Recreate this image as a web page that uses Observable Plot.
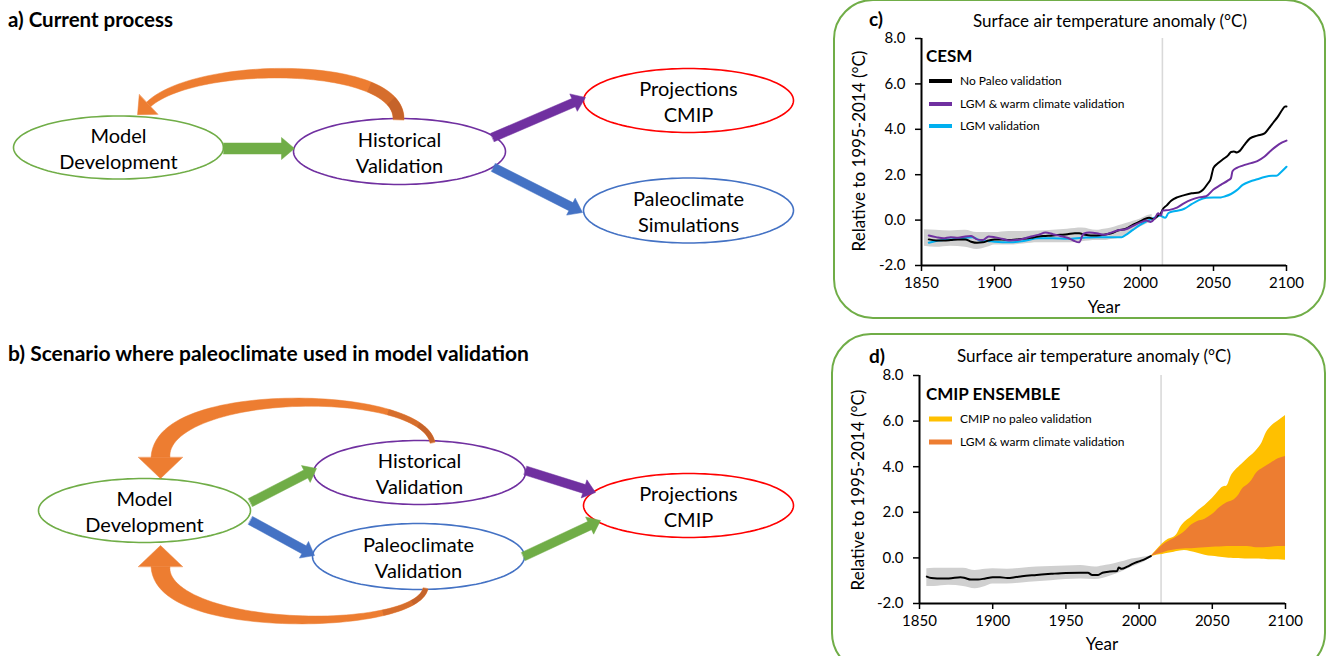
<!DOCTYPE html>
<html><head><meta charset="utf-8">
<script src="https://cdn.jsdelivr.net/npm/d3@7"></script>
<script src="https://cdn.jsdelivr.net/npm/@observablehq/plot@0.6"></script>
<style>
body{margin:0;background:#fff;font-family:Lato,"Open Sans",sans-serif;}
#root{position:relative;width:1327px;height:656px;overflow:hidden;background:#fff}
.abs{position:absolute;white-space:nowrap;line-height:1;color:#000}
.c{transform:translate(-50%,-50%)}
.l{transform:translate(0,-50%)}
.box{position:absolute;border:2px solid #70ad47;border-radius:40px;box-sizing:border-box}
.sw{position:absolute;transform:translate(0,-50%)}
</style></head><body><div id="root"></div><script>
// ---------------- DATA ----------------
const xTicks = [1850, 1900, 1950, 2000, 2050, 2100];
const yTicks = [-2, 0, 2, 4, 6, 8];

// Panel c (CESM)
const cNoPaleoYears = [1855,1860,1865,1870,1875,1880,1884,1888,1892,1896,1900,1905,1910,1915,1920,1925,1930,1935,1940,1945,1950,1955,1958,1962,1966,1970,1975,1980,1985,1990,1995,2000,2003,2006,2009,2012,2014,2015,2018,2021,2025,2030,2035,2040,2043,2046,2048,2050,2053,2057,2060,2062,2064,2066,2068,2071,2075,2080,2085,2088,2091,2094,2097,2099,2100];
const cNoPaleoValues = [-0.85,-0.9,-0.9,-0.88,-0.85,-0.85,-0.95,-1.0,-0.98,-0.9,-0.85,-0.85,-0.88,-0.85,-0.82,-0.78,-0.72,-0.7,-0.68,-0.65,-0.62,-0.58,-0.58,-0.65,-0.68,-0.68,-0.65,-0.58,-0.45,-0.38,-0.2,-0.05,0.05,0.1,0.05,0.2,0.3,0.45,0.65,0.85,1.0,1.1,1.18,1.22,1.35,1.6,1.8,2.3,2.5,2.7,2.85,3.0,3.02,2.98,3.05,3.3,3.6,3.72,3.82,4.05,4.3,4.55,4.85,5.0,5.0];

const cWarmYears = [1855,1860,1865,1870,1875,1880,1884,1888,1892,1896,1900,1905,1910,1915,1920,1925,1930,1935,1940,1945,1950,1954,1958,1961,1965,1970,1975,1980,1985,1990,1995,2000,2004,2007,2010,2012,2014,2015,2020,2025,2030,2035,2040,2045,2050,2055,2060,2062,2063,2066,2070,2075,2080,2085,2090,2095,2100];
const cWarmValues = [-0.68,-0.75,-0.8,-0.75,-0.78,-0.72,-0.7,-0.85,-0.88,-0.72,-0.75,-0.82,-0.9,-0.88,-0.82,-0.72,-0.65,-0.55,-0.62,-0.7,-0.78,-0.9,-0.98,-0.6,-0.55,-0.58,-0.65,-0.55,-0.45,-0.4,-0.25,-0.1,-0.02,-0.08,0.1,0.3,0.2,0.42,0.45,0.55,0.75,0.9,1.0,1.05,1.35,1.55,1.75,1.85,2.15,2.3,2.4,2.5,2.6,2.8,3.1,3.35,3.5];

const cLgmYears = [1855,1860,1865,1870,1875,1880,1885,1887,1890,1895,1900,1910,1920,1930,1940,1950,1960,1970,1980,1987,1990,1995,2000,2005,2010,2014,2015,2017,2019,2022,2026,2030,2035,2040,2045,2050,2055,2058,2062,2066,2070,2075,2080,2085,2090,2093,2096,2100];
const cLgmValues = [-1.0,-0.92,-0.88,-0.85,-0.82,-0.78,-0.75,-0.8,-0.9,-0.92,-0.95,-0.98,-0.92,-0.8,-0.8,-0.82,-0.78,-0.75,-0.75,-0.75,-0.65,-0.42,-0.2,-0.02,0.12,0.2,0.15,0.1,0.3,0.38,0.42,0.5,0.7,0.88,0.98,1.0,1.0,1.05,1.15,1.32,1.55,1.7,1.8,1.9,1.95,1.95,2.1,2.35];

const cBandYears = [1852,1860,1870,1880,1888,1895,1900,1910,1920,1930,1940,1950,1960,1970,1975,1980,1985,1990,1995,2000,2005,2008];
const cBandUpper = [-0.42,-0.45,-0.48,-0.45,-0.55,-0.55,-0.55,-0.5,-0.5,-0.48,-0.45,-0.4,-0.35,-0.45,-0.4,-0.35,-0.25,-0.15,-0.05,0.05,0.2,0.25];
const cBandLower = [-1.15,-1.2,-1.15,-1.2,-1.3,-1.2,-1.1,-1.1,-1.05,-1.0,-1.0,-1.0,-0.95,-0.9,-0.9,-0.85,-0.8,-0.65,-0.5,-0.3,-0.15,-0.05];

// Panel d (CMIP ensemble)
const dHistYears = [1855,1858,1862,1870,1878,1881,1885,1890,1895,1900,1905,1910,1915,1920,1930,1940,1950,1960,1965,1968,1972,1975,1980,1985,1986,1988,1992,1996,2000,2004,2008];
const dHistValues = [-0.82,-0.88,-0.9,-0.9,-0.85,-0.88,-0.95,-0.95,-0.9,-0.85,-0.85,-0.88,-0.85,-0.8,-0.75,-0.7,-0.66,-0.65,-0.65,-0.75,-0.75,-0.65,-0.6,-0.58,-0.42,-0.48,-0.38,-0.25,-0.15,-0.05,0.08];

const dBandYears = [1855,1860,1870,1880,1888,1895,1900,1910,1920,1930,1940,1950,1960,1970,1975,1980,1985,1990,1995,2000,2005,2008];
const dBandUpper = [-0.48,-0.45,-0.45,-0.45,-0.55,-0.5,-0.48,-0.5,-0.45,-0.4,-0.38,-0.35,-0.33,-0.4,-0.35,-0.3,-0.22,-0.15,-0.05,0.0,0.05,0.08];
const dBandLower = [-1.25,-1.25,-1.2,-1.25,-1.35,-1.25,-1.15,-1.15,-1.1,-1.05,-1.0,-0.95,-0.92,-0.95,-0.9,-0.8,-0.7,-0.55,-0.4,-0.28,-0.12,0.02];

const dCmipYears = [2008,2012,2016,2020,2024,2026,2028,2031,2035,2040,2045,2050,2054,2057,2060,2063,2066,2070,2075,2080,2084,2087,2090,2095,2100];
const dCmipUpper = [0.05,0.35,0.62,0.82,0.92,1.05,1.3,1.55,1.75,2.05,2.3,2.6,2.9,3.1,3.15,3.6,3.85,4.1,4.4,4.7,5.05,5.5,5.75,6.0,6.25];
const dCmipLower = [0.05,0.12,0.15,0.2,0.25,0.28,0.3,0.32,0.28,0.2,0.12,0.07,0.04,0.02,0.0,-0.02,-0.03,-0.04,-0.05,-0.05,-0.06,-0.07,-0.08,-0.08,-0.1];

const dWarmYears = [2008,2012,2016,2020,2024,2028,2032,2036,2040,2045,2050,2055,2060,2065,2068,2071,2074,2077,2080,2085,2090,2095,2100];
const dWarmUpper = [0.05,0.3,0.55,0.72,0.85,1.0,1.2,1.45,1.6,1.7,1.9,2.2,2.42,2.55,2.75,3.05,3.2,3.4,3.7,3.95,4.15,4.35,4.45];
const dWarmLower = [0.05,0.15,0.22,0.3,0.35,0.38,0.4,0.4,0.42,0.45,0.47,0.48,0.5,0.5,0.5,0.5,0.5,0.48,0.45,0.45,0.47,0.5,0.5];

const cLegend = ["No Paleo validation", "LGM & warm climate validation", "LGM validation"];
const dLegend = ["CMIP no paleo validation", "LGM & warm climate validation"];

// Diagram nodes (labels)
const nodesA = ["Model\nDevelopment", "Historical\nValidation", "Projections\nCMIP", "Paleoclimate\nSimulations"];
const nodesB = ["Model\nDevelopment", "Historical\nValidation", "Paleoclimate\nValidation", "Projections\nCMIP"];

// ---------------- LAYOUT / STYLE ----------------
const COL = {green:"#70ad47", purple:"#7030a0", blue:"#4472c4", red:"#ff0000", orange:"#ed7d31", dark:"#c0602a",
  black:"#000000", cyan:"#00b0f0", gray:"#d0d0d0", yellow:"#ffc000"};
const FONT = "Lato, 'Open Sans', sans-serif";

const layoutA = [
  {cx:118, cy:147, rx:105, ry:31.5, c:COL.green},
  {cx:399, cy:151, rx:106, ry:33, c:COL.purple},
  {cx:688, cy:100, rx:105, ry:32, c:COL.red},
  {cx:688, cy:210, rx:105, ry:32.5, c:COL.blue}];
const layoutB = [
  {cx:144, cy:510, rx:106, ry:32, c:COL.green},
  {cx:419, cy:472, rx:106, ry:32, c:COL.purple},
  {cx:418, cy:556, rx:106, ry:33, c:COL.blue},
  {cx:688, cy:505, rx:105, ry:32, c:COL.red}];
const straightArrows = [
  {p0:[223,148], p1:[294,148], w:11, hw:22, hl:13, c:COL.green},
  {p0:[492,137], p1:[585,97], w:9, hw:19, hl:13, c:COL.purple},
  {p0:[493,167], p1:[582,212], w:9, hw:19, hl:13, c:COL.blue},
  {p0:[250,502], p1:[316,468], w:9, hw:19, hl:12, c:COL.green},
  {p0:[250,520], p1:[314,555], w:9, hw:19, hl:12, c:COL.blue},
  {p0:[525,470], p1:[595,492], w:9, hw:19, hl:12, c:COL.purple},
  {p0:[523,556], p1:[600,520], w:9, hw:19, hl:12, c:COL.green}];
const curvedArrows = [
  {P:[[398,119],[400,60],[195,60],[148,104]], w0:11, w1:6, hw:27, hl:15},
  {P:[[432,442],[420,386],[160,386],[160,457]], w0:5, w1:19, hw:44, hl:21},
  {P:[[425,588],[415,633],[160,633],[160,566]], w0:5, w1:19, hw:44, hl:21}];

// ---------------- GEOMETRY HELPERS ----------------
function ellipsePts(e){const pts=[];for(let i=0;i<120;i++){const a=i/120*2*Math.PI;pts.push([e.cx+e.rx*Math.cos(a), e.cy+e.ry*Math.sin(a)]);}return pts;}
function blockArrow(a){const [x0,y0]=a.p0,[x1,y1]=a.p1;const L=Math.hypot(x1-x0,y1-y0);const ux=(x1-x0)/L,uy=(y1-y0)/L,nx=-uy,ny=ux;
  const bx=x1-ux*a.hl,by=y1-uy*a.hl;
  return [[x0+nx*a.w/2,y0+ny*a.w/2],[bx+nx*a.w/2,by+ny*a.w/2],[bx+nx*a.hw/2,by+ny*a.hw/2],[x1,y1],[bx-nx*a.hw/2,by-ny*a.hw/2],[bx-nx*a.w/2,by-ny*a.w/2],[x0-nx*a.w/2,y0-ny*a.w/2]];}
function bez(P,t){const m=1-t;return [0,1].map(k=>m*m*m*P[0][k]+3*m*m*t*P[1][k]+3*m*t*t*P[2][k]+t*t*t*P[3][k]);}
function dbez(P,t){const m=1-t;return [0,1].map(k=>3*m*m*(P[1][k]-P[0][k])+6*m*t*(P[2][k]-P[1][k])+3*t*t*(P[3][k]-P[2][k]));}
function tapered(a,t0,t1){const left=[],right=[];const N=60;
  for(let i=0;i<=N;i++){const t=t0+(t1-t0)*i/N;const p=bez(a.P,t),d=dbez(a.P,t);const L=Math.hypot(d[0],d[1]);const nx=-d[1]/L,ny=d[0]/L;
    const w=a.w0+(a.w1-a.w0)*t*t;left.push([p[0]+nx*w/2,p[1]+ny*w/2]);right.push([p[0]-nx*w/2,p[1]-ny*w/2]);}
  return left.concat(right.reverse());}
function head(a){const p=a.P[3],d=dbez(a.P,1);const L=Math.hypot(d[0],d[1]);const ux=d[0]/L,uy=d[1]/L,nx=-uy,ny=ux;
  return [[p[0]+nx*a.hw/2,p[1]+ny*a.hw/2],[p[0]+ux*a.hl,p[1]+uy*a.hl],[p[0]-nx*a.hw/2,p[1]-ny*a.hw/2]];}
const poly = (pts, opts) => Plot.line(pts, {x:d=>d[0], y:d=>d[1], curve:"linear-closed", ...opts});

// ---------------- DIAGRAM ----------------
const root = document.getElementById("root");
const diagMarks = [];
[...layoutA, ...layoutB].forEach(e => diagMarks.push(poly(ellipsePts(e), {stroke:e.c, strokeWidth:1.6, fill:"white"})));
curvedArrows.forEach(a => {
  diagMarks.push(poly(tapered(a,0,1), {fill:COL.orange, stroke:COL.orange, strokeWidth:0.5}));
  diagMarks.push(poly(tapered(a,0,0.12), {fill:COL.dark, stroke:"none", fillOpacity:0.9}));
  diagMarks.push(poly(tapered(a,0.12,0.24), {fill:COL.dark, stroke:"none", fillOpacity:0.5}));
  diagMarks.push(poly(head(a), {fill:COL.orange, stroke:COL.orange, strokeWidth:0.5}));
});
straightArrows.forEach(a => diagMarks.push(poly(blockArrow(a), {fill:a.c, stroke:a.c, strokeWidth:0.5})));
const nodeTexts = [...nodesA.map((t,i)=>({t, ...layoutA[i]})), ...nodesB.map((t,i)=>({t, ...layoutB[i]}))];
diagMarks.push(Plot.text(nodeTexts, {x:"cx", y:"cy", text:"t", fontSize:20, lineHeight:1.3, fill:"black"}));

const diag = Plot.plot({
  width:830, height:656, margin:0,
  x:{domain:[0,830], axis:null}, y:{domain:[656,0], axis:null},
  style:{fontFamily:FONT, background:"transparent"},
  marks: diagMarks
});
diag.style.position="absolute"; diag.style.left="0px"; diag.style.top="0px";
root.appendChild(diag);

// ---------------- CHARTS ----------------
const zip = (years, ...cols) => years.map((yr,i)=>({year:yr, a:cols[0]?.[i], b:cols[1]?.[i]}));
function chart(opts, marks){
  return Plot.plot({
    width:opts.w, height:opts.h, marginLeft:opts.ml, marginRight:opts.mr, marginTop:opts.mt, marginBottom:opts.mb,
    x:{domain:[1850,2100]}, y:{domain:[-2,8]},
    style:{fontFamily:FONT, background:"transparent", color:"black"},
    marks:[
      Plot.ruleX([2015], {y1:-2, y2:8, stroke:"#d9d9d9", strokeWidth:1.6}),
      ...marks,
      Plot.axisY({ticks:yTicks, tickSize:6, tickPadding:10, tickFormat:d=>d.toFixed(1), fontSize:15, label:null, strokeWidth:1.5}),
      Plot.axisX({ticks:xTicks, tickSize:6, tickPadding:6, tickFormat:d=>String(d), fontSize:15, label:null, strokeWidth:1.5}),
      Plot.ruleX([1850], {y1:-2, y2:8, stroke:"black", strokeWidth:2}),
      Plot.ruleY([-2], {x1:1850, x2:2100, stroke:"black", strokeWidth:2})
    ]
  });
}
const cChart = chart({w:497,h:330,ml:91,mr:41,mt:38,mb:65}, [
  Plot.areaY(zip(cBandYears,cBandUpper,cBandLower), {x:"year", y1:"a", y2:"b", fill:COL.gray, curve:"monotone-x"}),
  Plot.line(zip(cLgmYears,cLgmValues), {x:"year", y:"a", stroke:COL.cyan, strokeWidth:2, curve:"monotone-x"}),
  Plot.line(zip(cNoPaleoYears,cNoPaleoValues), {x:"year", y:"a", stroke:COL.black, strokeWidth:2, curve:"monotone-x"}),
  Plot.line(zip(cWarmYears,cWarmValues), {x:"year", y:"a", stroke:COL.purple, strokeWidth:2, curve:"monotone-x"})
]);
cChart.style.position="absolute"; cChart.style.left="830px"; cChart.style.top="0px";

const dChart = chart({w:497,h:326,ml:89,mr:42,mt:45,mb:53}, [
  Plot.areaY(zip(dBandYears,dBandUpper,dBandLower), {x:"year", y1:"a", y2:"b", fill:COL.gray, curve:"monotone-x"}),
  Plot.areaY(zip(dCmipYears,dCmipUpper,dCmipLower), {x:"year", y1:"a", y2:"b", fill:COL.yellow, curve:"monotone-x"}),
  Plot.areaY(zip(dWarmYears,dWarmUpper,dWarmLower), {x:"year", y1:"a", y2:"b", fill:COL.orange, curve:"monotone-x"}),
  Plot.line(zip(dHistYears,dHistValues), {x:"year", y:"a", stroke:COL.black, strokeWidth:2, curve:"monotone-x"})
]);
dChart.style.position="absolute"; dChart.style.left="830px"; dChart.style.top="330px";

// boxes
function addEl(tag, cls, css, text){const e=document.createElement(tag);e.className=cls;Object.assign(e.style,css);if(text!=null)e.textContent=text;root.appendChild(e);return e;}
addEl("div","box",{left:"833px",top:"-1px",width:"493px",height:"320px"});
addEl("div","box",{left:"831px",top:"333px",width:"495px",height:"340px"});
root.appendChild(cChart); root.appendChild(dChart);

// titles
addEl("div","abs l",{left:"8px",top:"19px",fontSize:"20.5px",fontWeight:"bold"},"a) Current process");
addEl("div","abs l",{left:"8px",top:"352px",fontSize:"21px",fontWeight:"bold"},"b) Scenario where paleoclimate used in model validation");

function chartText(ox, oy, label, title, legendTitle, entries, colors, swH, rows, ylabC, yearC){
  addEl("div","abs c",{left:(ox+46)+"px",top:(oy+18)+"px",fontSize:"19px",fontWeight:"bold"},label);
  addEl("div","abs c",{left:title[0]+"px",top:title[1]+"px",fontSize:"17px"},"Surface air temperature anomaly (°C)");
  addEl("div","abs l",{left:"926px",top:legendTitle[1]+"px",fontSize:"17px",fontWeight:"bold"},legendTitle[0]);
  entries.forEach((t,i)=>{
    addEl("div","sw",{left:"929px",top:rows[i]+"px",width:"23px",height:swH+"px",background:colors[i]});
    addEl("div","abs l",{left:"960px",top:rows[i]+"px",fontSize:"12px"},t);
  });
  addEl("div","abs",{left:ylabC[0]+"px",top:ylabC[1]+"px",fontSize:"17px",transform:"translate(-50%,-50%) rotate(-90deg)"},"Relative to 1995-2014 (°C)");
  addEl("div","abs c",{left:yearC[0]+"px",top:yearC[1]+"px",fontSize:"17px"},"Year");
}
chartText(830, 0, "c)", [1110,20], ["CESM",55], cLegend, [COL.black, COL.purple, COL.cyan], 4, [81,104,126], [858,151], [1104,306]);
chartText(831, 337, "d)", [1094,355], ["CMIP ENSEMBLE",393], dLegend, [COL.yellow, COL.orange], 5, [419,442], [857,490], [1102,643]);
</script></body></html>
